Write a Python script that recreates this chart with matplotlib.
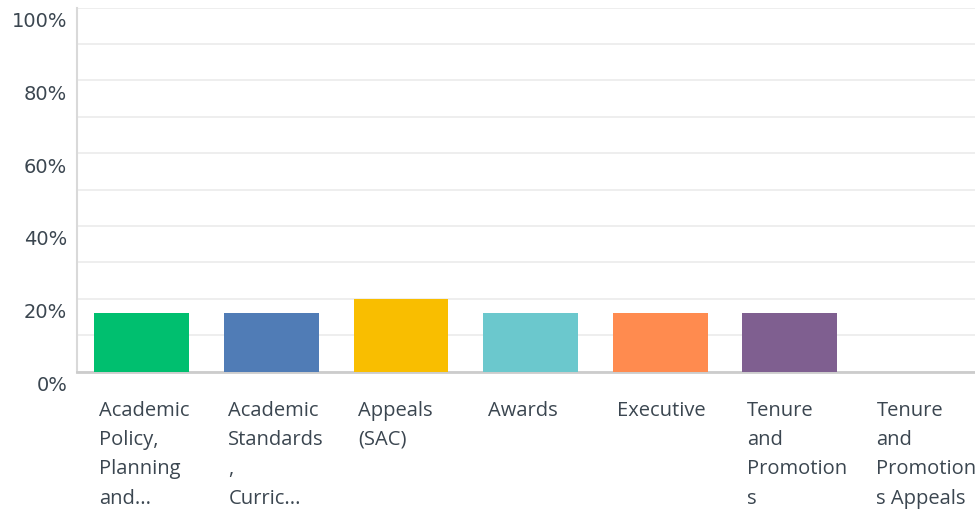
import matplotlib
matplotlib.use("Agg")
import matplotlib.pyplot as plt
import matplotlib.transforms as mtransforms
from matplotlib.ticker import MultipleLocator, FuncFormatter

categories = [
    "Academic\nPolicy,\nPlanning\nand...",
    "Academic\nStandards\n,\nCurric...",
    "Appeals\n(SAC)",
    "Awards",
    "Executive",
    "Tenure\nand\nPromotion\ns",
    "Tenure\nand\nPromotion\ns Appeals",
]
values = [16, 16, 20, 16, 16, 16, 0]
colors = ["#00bf6f", "#507cb6", "#f9be00", "#6bc8cd", "#ff8b4f", "#7f5f90", "#e05c86"]
y_ticks = [0, 20, 40, 60, 80, 100]

W, H = 975, 512
fig = plt.figure(figsize=(W / 100, H / 100), dpi=100)
left, base, top = 77, 371.5, 7.5
slot = 129.6
ax = fig.add_axes([left / W, (H - base) / H, 7 * slot / W, (base - top) / H])

bar_w = 0.73
x = list(range(len(categories)))
ax.bar(x, values, width=bar_w, color=colors, zorder=3)
ax.set_xlim(-0.5, len(categories) - 0.5)
ax.set_ylim(0, 100)

ax.yaxis.set_major_locator(MultipleLocator(20))
ax.yaxis.set_minor_locator(MultipleLocator(10))
ax.set_yticks(y_ticks)
ax.yaxis.set_major_formatter(FuncFormatter(lambda v, p: f"{int(v)}%"))
ax.grid(axis="y", which="both", color="#ededed", linewidth=1.3, zorder=0)
ax.tick_params(axis="y", which="both", length=0, pad=7, labelsize=14, labelcolor="#3b4650")
for lab in ax.get_yticklabels():
    lab.set_fontfamily("DejaVu Sans")
    lab.set_transform(lab.get_transform() + mtransforms.ScaledTranslation(0, -12 / 100, fig.dpi_scale_trans))

ax.set_xticks(x)
ax.set_xticklabels(categories, ha="left", va="top", linespacing=1.62,
                   fontsize=14.5, color="#3b4650", fontfamily="Open Sans")
ax.tick_params(axis="x", length=0, pad=21)
off = mtransforms.ScaledTranslation(-43 / 100, 0, fig.dpi_scale_trans)
for lab in ax.get_xticklabels():
    lab.set_transform(lab.get_transform() + off)

for s in ["top", "right"]:
    ax.spines[s].set_visible(False)
ax.spines["left"].set_color("#d9d9d9")
ax.spines["left"].set_linewidth(1.5)
ax.spines["bottom"].set_color("#cccccc")
ax.spines["bottom"].set_linewidth(2)

fig.savefig("out.png", dpi=100)
